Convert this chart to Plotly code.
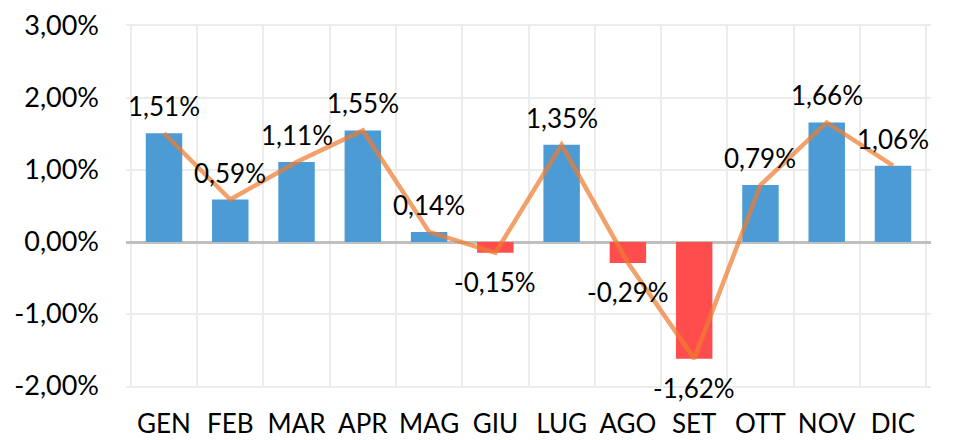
import plotly.graph_objects as go

months = ["GEN", "FEB", "MAR", "APR", "MAG", "GIU", "LUG", "AGO", "SET", "OTT", "NOV", "DIC"]
values = [1.51, 0.59, 1.11, 1.55, 0.14, -0.15, 1.35, -0.29, -1.62, 0.79, 1.66, 1.06]
y_tickvals = [3, 2, 1, 0, -1, -2]
y_ticktext = ["3,00%", "2,00%", "1,00%", "0,00%", "-1,00%", "-2,00%"]

BLUE = "#4c9bd4"
RED = "#ff4d4d"
bar_colors = [BLUE if v >= 0 else RED for v in values]
labels = [f"{v:.2f}%".replace(".", ",") for v in values]

fig = go.Figure()
fig.add_trace(go.Bar(x=months, y=values, marker=dict(color=bar_colors, line=dict(width=0)),
                     width=0.55, hoverinfo="skip"))
fig.add_trace(go.Scatter(x=months, y=values, mode="lines",
                         line=dict(color="rgba(237,125,49,0.72)", width=4.5), hoverinfo="skip"))

for m, v, t in zip(months, values, labels):
    fig.add_annotation(x=m, y=v, text=t, showarrow=False, yshift=27 if v >= 0 else -29,
                       font=dict(size=26, color="#000000", family="Lato"))

fig.update_layout(
    width=947, height=432,
    margin=dict(l=118, r=24, t=18, b=54),
    paper_bgcolor="white", plot_bgcolor="white",
    showlegend=False, bargap=0.45,
    font=dict(family="Lato", size=26, color="#000000"),
)
fig.update_xaxes(type="category", tickson="boundaries", showgrid=True, gridcolor="#ececec", gridwidth=2,
                 ticks="", showline=True, linecolor="#ececec", linewidth=2, mirror=True, tickangle=0,
                 ticklabelstandoff=14, tickfont=dict(size=26), automargin=False)
fig.update_yaxes(range=[-2, 3], tickvals=y_tickvals, ticktext=y_ticktext, showgrid=True,
                 gridcolor="#ececec", gridwidth=2, zeroline=True, zerolinecolor="#bfbfbf", zerolinewidth=3,
                 ticks="", ticklabelstandoff=26, tickfont=dict(size=27), showline=False, automargin=False)

fig.write_html("out.html")
